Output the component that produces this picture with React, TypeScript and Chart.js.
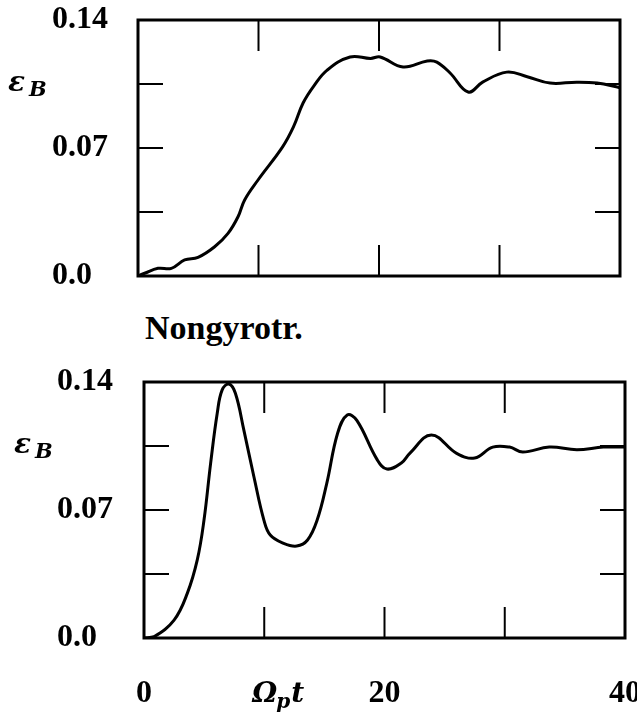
import React, { useEffect, useRef } from 'react';
import { Chart, registerables } from 'chart.js';

Chart.register(...registerables);

// ---- data ----
const TIME_TOP = [0, 0.55, 1.66, 2.77, 3.87, 4.98, 6.36, 7.47, 8.3, 8.85, 9.96, 12.0, 12.9, 13.7, 14.6, 15.7, 17.6, 19.3, 20.1, 22.0, 24.0, 24.8, 25.9, 27.4, 28.6, 30.6, 32.3, 34.2, 36.4, 38.1, 40];
const EB_TOP = [0, 0.0015, 0.0042, 0.0042, 0.0088, 0.0102, 0.016, 0.0233, 0.0324, 0.0416, 0.0525, 0.0706, 0.0815, 0.0946, 0.104, 0.1126, 0.1198, 0.119, 0.1198, 0.1143, 0.1176, 0.117, 0.111, 0.1006, 0.106, 0.1115, 0.109, 0.1055, 0.106, 0.1055, 0.103];

const TIME_BOTTOM = [0, 0.83, 2.5, 3.6, 4.43, 4.99, 5.54, 6.09, 6.5, 7.06, 7.6, 8.3, 9.14, 9.97, 10.5, 11.6, 12.7, 13.6, 14.4, 15.2, 16.1, 16.9, 17.7, 19.4, 20.2, 21.4, 22.1, 23.9, 26.0, 27.5, 29.0, 30.4, 31.5, 33.7, 36.0, 38.2, 40];
const EB_BOTTOM = [0, 0.0007, 0.0098, 0.0244, 0.0427, 0.0645, 0.0955, 0.1229, 0.1357, 0.1389, 0.1338, 0.1138, 0.0882, 0.0645, 0.0563, 0.0518, 0.0503, 0.0536, 0.0645, 0.0846, 0.112, 0.122, 0.119, 0.0974, 0.0924, 0.0957, 0.101, 0.111, 0.101, 0.0984, 0.1044, 0.1044, 0.1017, 0.1044, 0.103, 0.1044, 0.1044];

const X_TICKS = [0, 10, 20, 30, 40];
const X_TICK_LABELS = ['0', '', '20', '', '40'];
const X_INNER_TICKS = [10, 20, 30];
const Y_TICKS = [0, 0.035, 0.07, 0.105, 0.14];
const Y_TICK_LABELS = ['0.0', '', '0.07', '', '0.14'];
const Y_INNER_TICKS = [0.035, 0.07, 0.105];
const PANEL_LABEL = 'Nongyrotr.';

const TICK_FONT = { family: '"Liberation Serif", serif', size: 32, weight: 'bold' as const };

function framePlugin(showOmega: boolean) {
  return {
    id: 'frame',
    afterDraw(chart: any) {
      const { ctx, chartArea: a, scales } = chart;
      const x = scales.x;
      const y = scales.y;
      ctx.save();
      ctx.strokeStyle = '#000';
      ctx.fillStyle = '#000';
      ctx.lineCap = 'butt';
      ctx.lineWidth = 2;
      const seg = (x1: number, y1: number, x2: number, y2: number) => {
        ctx.beginPath();
        ctx.moveTo(x1, y1);
        ctx.lineTo(x2, y2);
        ctx.stroke();
      };
      for (const v of X_INNER_TICKS) {
        const px = x.getPixelForValue(v);
        seg(px, a.top, px, a.top + 31);
        seg(px, a.bottom, px, a.bottom - 31);
      }
      for (const v of Y_INNER_TICKS) {
        const py = y.getPixelForValue(v);
        seg(a.left, py, a.left + 25, py);
        seg(a.right, py, a.right - 25, py);
      }
      ctx.lineWidth = 3;
      ctx.strokeRect(a.left, a.top, a.right - a.left, a.bottom - a.top);

      // epsilon_B label
      const yl = y.getPixelForValue(0.105);
      ctx.textBaseline = 'alphabetic';
      ctx.textAlign = 'left';
      const ex = a.left - 130;
      ctx.font = 'italic bold 28px "DejaVu Serif"';
      ctx.fillText('ε', ex, yl + 7);
      const ew = ctx.measureText('ε').width;
      ctx.font = 'italic bold 21px "DejaVu Serif"';
      ctx.fillText('B', ex + ew + 4, yl + 12);

      if (showOmega) {
        const ox = x.getPixelForValue(10) - 12;
        const base = a.bottom + 64;
        ctx.font = 'italic bold 28px "DejaVu Serif"';
        ctx.fillText('Ω', ox, base);
        const ow = ctx.measureText('Ω').width;
        ctx.font = 'italic bold 20px "DejaVu Serif"';
        ctx.fillText('p', ox + ow - 1, base + 6);
        const pw = ctx.measureText('p').width;
        ctx.font = 'italic bold 28px "DejaVu Serif"';
        ctx.fillText('t', ox + ow + pw, base);
      }
      ctx.restore();
    },
  };
}

function makeConfig(times: number[], values: number[], pad: any, yWidth: number, showX: boolean): any {
  return {
    type: 'line',
    data: {
      datasets: [
        {
          data: times.map((t, i) => ({ x: t, y: values[i] })),
          borderColor: '#000',
          borderWidth: 3,
          pointRadius: 0,
          fill: false,
          tension: 0.4,
        },
      ],
    },
    options: {
      animation: false,
      responsive: false,
      devicePixelRatio: 1,
      layout: { padding: pad },
      plugins: { legend: { display: false }, tooltip: { enabled: false }, title: { display: false } },
      scales: {
        x: {
          type: 'linear',
          min: 0,
          max: 40,
          display: showX,
          grid: { display: false, drawTicks: false },
          border: { display: false },
          afterBuildTicks: (s: any) => {
            s.ticks = X_TICKS.map((v) => ({ value: v }));
          },
          afterFit: (s: any) => {
            s.height = showX ? 74 : 0;
            s.paddingLeft = 0;
            s.paddingRight = 0;
          },
          ticks: {
            autoSkip: false,
            maxRotation: 0,
            padding: 37,
            color: '#000',
            font: TICK_FONT,
            callback: (_v: any, i: number) => X_TICK_LABELS[i],
          },
        },
        y: {
          type: 'linear',
          min: 0,
          max: 0.14,
          grid: { display: false, drawTicks: false },
          border: { display: false },
          afterBuildTicks: (s: any) => {
            s.ticks = Y_TICKS.map((v) => ({ value: v }));
          },
          afterFit: (s: any) => {
            s.width = yWidth;
            s.paddingTop = 0;
            s.paddingBottom = 0;
          },
          ticks: {
            autoSkip: false,
            padding: 0,
            crossAlign: 'far',
            color: '#000',
            font: TICK_FONT,
            callback: (_v: any, i: number) => Y_TICK_LABELS[i],
          },
        },
      },
    },
    plugins: [framePlugin(showX)],
  };
}

export default function App() {
  const topRef = useRef<HTMLCanvasElement>(null);
  const botRef = useRef<HTMLCanvasElement>(null);

  useEffect(() => {
    const c1 = new Chart(
      topRef.current as HTMLCanvasElement,
      makeConfig(TIME_TOP, EB_TOP, { left: 52, top: 20, right: 17, bottom: 24 }, 86, false)
    );
    const c2 = new Chart(
      botRef.current as HTMLCanvasElement,
      makeConfig(TIME_BOTTOM, EB_BOTTOM, { left: 57, top: 82, right: 12, bottom: 0 }, 87, true)
    );
    return () => {
      c1.destroy();
      c2.destroy();
    };
  }, []);

  return (
    <div style={{ position: 'absolute', left: 0, top: 0, width: 637, height: 712, background: '#fff', overflow: 'hidden' }}>
      <canvas
        ref={topRef}
        width={637}
        height={300}
        style={{ position: 'absolute', left: 0, top: 0, width: 637, height: 300 }}
      />
      <div
        style={{
          position: 'absolute',
          left: 145,
          top: 311,
          font: 'bold 34px "Liberation Serif", serif',
          lineHeight: 1,
          whiteSpace: 'nowrap',
          color: '#000',
        }}
      >
        {PANEL_LABEL}
      </div>
      <canvas
        ref={botRef}
        width={637}
        height={412}
        style={{ position: 'absolute', left: 0, top: 300, width: 637, height: 412 }}
      />
    </div>
  );
}
